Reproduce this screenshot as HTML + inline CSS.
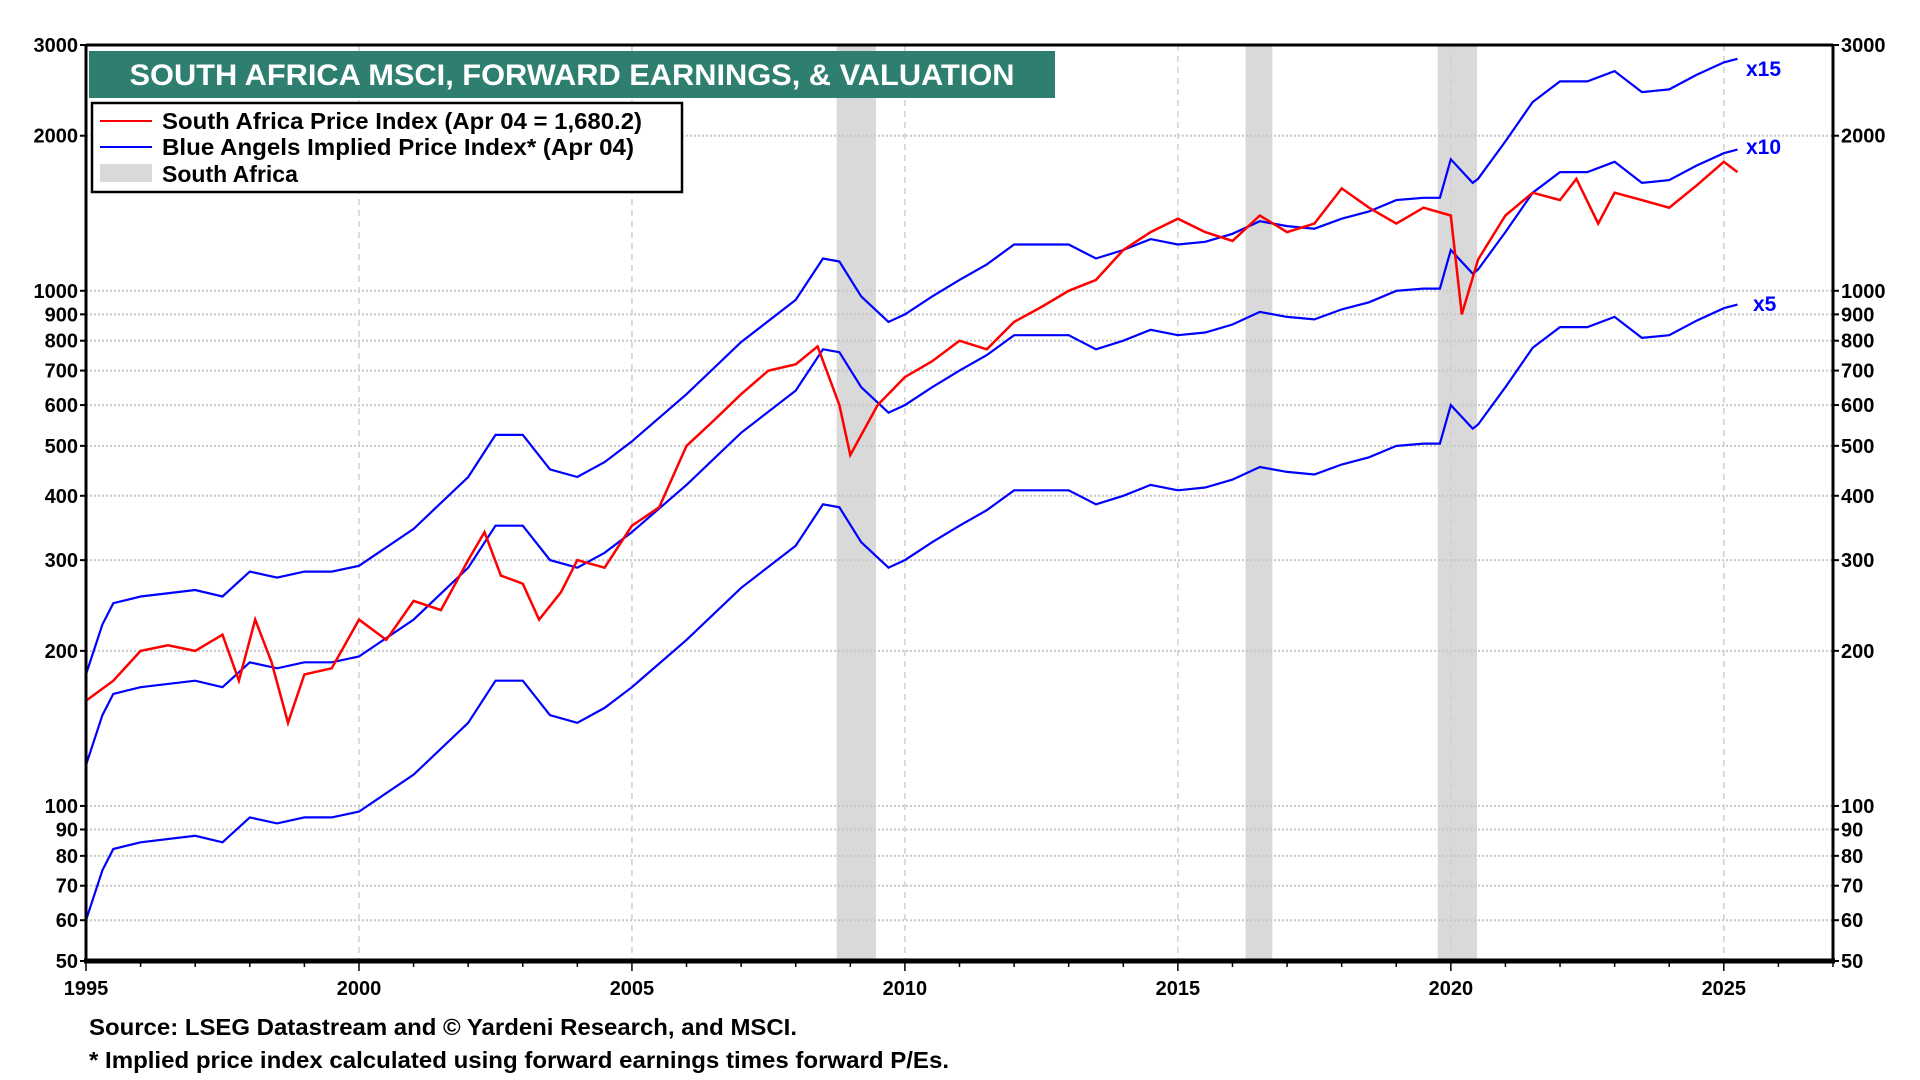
<!DOCTYPE html>
<html><head><meta charset="utf-8"><style>
html,body{margin:0;padding:0;background:#fff;width:1920px;height:1080px;overflow:hidden;}
svg text{font-family:"Liberation Sans",Arial,sans-serif;font-weight:bold;}
</style></head><body>
<svg id="chart" width="1920" height="1080" xmlns="http://www.w3.org/2000/svg">
<g id="bands"></g>
<g id="grid"></g>
<g id="series"></g>
<g id="axes"></g>
<rect x="89" y="51" width="966" height="47" fill="#2e7f70"/>
<text x="572" y="85" fill="#fff" font-size="30" text-anchor="middle" textLength="885" lengthAdjust="spacingAndGlyphs">SOUTH AFRICA MSCI, FORWARD EARNINGS, &amp; VALUATION</text>
<g>
<rect x="92" y="103" width="590" height="89" fill="#fff" stroke="#000" stroke-width="2.5"/>
<line x1="100" y1="121" x2="152" y2="121" stroke="#f00" stroke-width="2"/>
<text x="162" y="129" font-size="23" textLength="480" lengthAdjust="spacingAndGlyphs">South Africa Price Index (Apr 04 = 1,680.2)</text>
<line x1="100" y1="147" x2="152" y2="147" stroke="#00f" stroke-width="2"/>
<text x="162" y="155" font-size="23" textLength="472" lengthAdjust="spacingAndGlyphs">Blue Angels Implied Price Index* (Apr 04)</text>
<rect x="100" y="164" width="52" height="18" fill="#d9d9d9"/>
<text x="162" y="182" font-size="23">South Africa</text>
</g>
<text x="1746" y="76" fill="#00f" font-size="21">x15</text>
<text x="1746" y="154" fill="#00f" font-size="21">x10</text>
<text x="1753" y="311" fill="#00f" font-size="21">x5</text>
<text x="89" y="1035" font-size="23" textLength="708" lengthAdjust="spacingAndGlyphs">Source: LSEG Datastream and © Yardeni Research, and MSCI.</text>
<text x="89" y="1068" font-size="23" textLength="860" lengthAdjust="spacingAndGlyphs">* Implied price index calculated using forward earnings times forward P/Es.</text>
</svg>
<script>
const yTicks=[50,60,70,80,90,100,200,300,400,500,600,700,800,900,1000,2000,3000];
const xTicks=[1995,2000,2005,2010,2015,2020,2025];
const recessions=[[2008.75,2009.47],[2016.24,2016.73],[2019.76,2020.48]];
const priceDates=[1995,1995.5,1996,1996.5,1997,1997.5,1997.8,1998.1,1998.4,1998.7,1999,1999.5,2000,2000.5,2001,2001.5,2002,2002.3,2002.6,2003,2003.3,2003.7,2004,2004.5,2005,2005.5,2006,2006.5,2007,2007.5,2008,2008.4,2008.8,2009,2009.5,2010,2010.5,2011,2011.5,2012,2012.5,2013,2013.5,2014,2014.5,2015,2015.5,2016,2016.5,2017,2017.5,2018,2018.5,2019,2019.5,2020,2020.2,2020.5,2021,2021.5,2022,2022.3,2022.7,2023,2023.5,2024,2024.5,2025,2025.25];
const priceValues=[160,175,200,205,200,215,175,230,190,145,180,185,230,210,250,240,300,340,280,270,230,260,300,290,350,380,500,560,630,700,720,780,600,480,600,680,730,800,770,870,930,1000,1050,1200,1300,1380,1300,1250,1400,1300,1350,1580,1450,1350,1450,1400,900,1150,1400,1550,1500,1650,1350,1550,1500,1450,1600,1780,1700];
const impliedDates=[1995,1995.3,1995.5,1996,1997,1997.5,1998,1998.5,1999,1999.5,2000,2001,2002,2002.5,2003,2003.5,2004,2004.5,2005,2006,2007,2008,2008.5,2008.8,2009.2,2009.7,2010,2010.5,2011,2011.5,2012,2013,2013.5,2014,2014.5,2015,2015.5,2016,2016.5,2017,2017.5,2018,2018.5,2019,2019.5,2019.8,2020,2020.4,2020.5,2021,2021.5,2022,2022.5,2023,2023.5,2024,2024.5,2025,2025.25];
const impliedX10=[120,150,165,170,175,170,190,185,190,190,195,230,290,350,350,300,290,310,340,420,530,640,770,760,650,580,600,650,700,750,820,820,770,800,840,820,830,860,910,890,880,920,950,1000,1010,1010,1200,1080,1100,1300,1550,1700,1700,1780,1620,1640,1750,1850,1880];
const multipliers=[1.5,1,0.5];

const L=86,R=1833,T=45,B=961,X0=1995,X1=2027,VMIN=50,VMAX=3000;
const xS=y=>L+(y-X0)/(X1-X0)*(R-L);
const yS=v=>T+(Math.log(VMAX)-Math.log(v))/(Math.log(VMAX)-Math.log(VMIN))*(B-T);
const NS="http://www.w3.org/2000/svg";
function mk(tag,attrs,parent){const e=document.createElementNS(NS,tag);for(const k in attrs)e.setAttribute(k,attrs[k]);parent.appendChild(e);return e;}
const bands=document.getElementById('bands'),grid=document.getElementById('grid'),series=document.getElementById('series'),axes=document.getElementById('axes');
recessions.forEach(r=>{const e=mk('rect',{x:xS(r[0]),y:T,width:xS(r[1])-xS(r[0]),height:B-T,fill:'#d9d9d9'},bands);

});
yTicks.forEach(v=>{const y=yS(v);
if(v!==VMIN&&v!==VMAX){const g=mk('line',{x1:L,x2:R,y1:y,y2:y,stroke:'#c8c8c8','stroke-width':2,'stroke-dasharray':'2,2'},grid);

}
['l','r'].forEach(s=>{const t=mk('text',{x:s==='l'?L-8:R+8,y:y+7,'font-size':20,'text-anchor':s==='l'?'end':'start'},axes);t.textContent=v;

});
mk('line',{x1:L-6,x2:L,y1:y,y2:y,stroke:'#000','stroke-width':2},axes);
mk('line',{x1:R,x2:R+6,y1:y,y2:y,stroke:'#000','stroke-width':2},axes);});
xTicks.forEach(yr=>{const x=xS(yr);
if(yr!==X0){const g=mk('line',{x1:x,x2:x,y1:T,y2:B,stroke:'#d0d0d0','stroke-width':1.5,'stroke-dasharray':'6,5'},grid);

}
const t=mk('text',{x:x,y:B+34,'font-size':20,'text-anchor':'middle'},axes);t.textContent=yr;

});
for(let yr=X0;yr<=X1;yr++){mk('line',{x1:xS(yr),x2:xS(yr),y1:B,y2:B+(yr%5===0?10:6),stroke:'#000','stroke-width':1.5},axes);}
function path(d,v,m){return d.map((x,i)=>(i?'L':'M')+xS(x).toFixed(1)+','+yS(v[i]*m).toFixed(1)).join('');}
multipliers.forEach(m=>{const p=mk('path',{d:path(impliedDates,impliedX10,m),fill:'none',stroke:'#0000ff','stroke-width':2.2},series);

});
const pr=mk('path',{d:path(priceDates,priceValues,1),fill:'none',stroke:'#ff0000','stroke-width':2.5},series);


mk('line',{x1:L,x2:R,y1:T,y2:T,stroke:'#000','stroke-width':3},axes);
mk('line',{x1:L,x2:L,y1:T,y2:B,stroke:'#000','stroke-width':3},axes);
mk('line',{x1:R,x2:R,y1:T,y2:B,stroke:'#000','stroke-width':3},axes);
mk('line',{x1:L-2,x2:R+2,y1:B,y2:B,stroke:'#000','stroke-width':5},axes);
</script>
</body></html>
